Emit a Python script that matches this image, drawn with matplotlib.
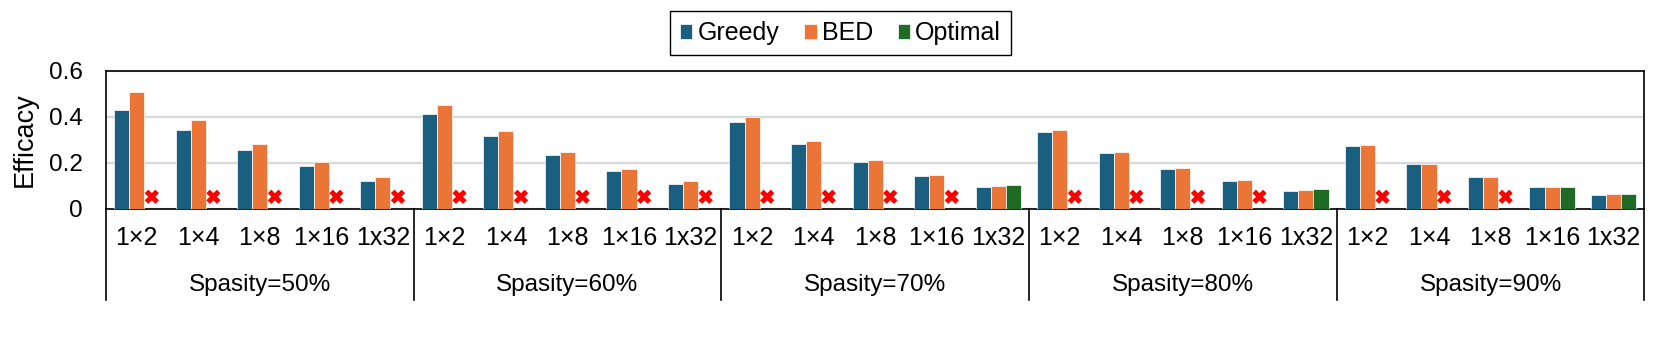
import numpy as np
import matplotlib
matplotlib.use('Agg')
import matplotlib.pyplot as plt
import matplotlib.transforms as mtransforms

plt.rcParams['font.family'] = ['Liberation Sans', 'DejaVu Sans']

# values
groups = ['Spasity=50%', 'Spasity=60%', 'Spasity=70%', 'Spasity=80%', 'Spasity=90%']
blocks = ['1×2', '1×4', '1×8', '1×16', '1x32']

greedy = [0.430, 0.344, 0.257, 0.186, 0.119,
          0.411, 0.318, 0.232, 0.164, 0.108,
          0.378, 0.283, 0.203, 0.142, 0.093,
          0.333, 0.244, 0.173, 0.121, 0.078,
          0.272, 0.195, 0.137, 0.093, 0.061]
bed = [0.506, 0.387, 0.283, 0.203, 0.139,
       0.453, 0.339, 0.246, 0.173, 0.119,
       0.400, 0.293, 0.211, 0.148, 0.100,
       0.344, 0.248, 0.176, 0.123, 0.081,
       0.276, 0.195, 0.137, 0.096, 0.064]
# None = optimal could not be computed (red cross)
optimal = [None, None, None, None, None,
           None, None, None, None, None,
           None, None, None, None, 0.103,
           None, None, None, None, 0.086,
           None, None, None, 0.096, 0.064]

c_greedy = '#1A5E80'
c_bed = '#EA7536'
c_opt = '#1F6B25'
fs = 18

fig = plt.figure(figsize=(16.61, 3.64), dpi=100)
ax = fig.add_axes([0.0638, 0.4266, 0.9262, 0.379])

x = np.arange(len(greedy))
w = 0.245
ax.bar(x - w, greedy, w, color=c_greedy, edgecolor='white', linewidth=0.5, label='Greedy', zorder=3)
ax.bar(x, bed, w, color=c_bed, edgecolor='white', linewidth=0.5, label='BED', zorder=3)

opt_x = [xi + w for xi, v in zip(x, optimal) if v is not None]
opt_v = [v for v in optimal if v is not None]
ax.bar(opt_x, opt_v, w, color=c_opt, edgecolor='white', linewidth=0.5, label='Optimal', zorder=3)

miss_x = [xi + w for xi, v in zip(x, optimal) if v is None]
ax.scatter(miss_x, [0.052] * len(miss_x), marker='X', s=105, color='red',
           edgecolors='none', zorder=4)

ax.set_xlim(-0.5, len(greedy) - 0.5)
ax.set_ylim(0, 0.6)
ax.set_yticks([0, 0.2, 0.4, 0.6])
ax.set_yticklabels(['0', '0.2', '0.4', '0.6'])
ax.yaxis.grid(True, color='#d9d9d9', linewidth=1.6, zorder=0)
ax.set_xticks([])
ax.tick_params(axis='y', length=0, pad=16.5, labelsize=17.5)
for s in ax.spines.values():
    s.set_linewidth(1.2)
ax.set_ylabel('Efficacy', fontsize=19.5)
ax.yaxis.set_label_coords(-0.0445, 0.5)

# category labels and group labels under the axis
trans = mtransforms.blended_transform_factory(ax.transData, ax.transAxes)
for i in range(len(greedy)):
    ax.text(i, -0.215, blocks[i % len(blocks)], transform=trans,
            ha='center', va='center', fontsize=fs)
for g, name in enumerate(groups):
    ax.text(g * 5 + 2, -0.555, name, transform=trans,
            ha='center', va='center', fontsize=17.5)
for b in range(len(groups) + 1):
    ax.plot([b * 5 - 0.5, b * 5 - 0.5], [0, -0.66], transform=trans,
            color='black', linewidth=1.2, clip_on=False)

fig.legend(loc='center', bbox_to_anchor=(0.506, 0.908), ncol=3, fontsize=fs,
           frameon=True, fancybox=False, edgecolor='black', framealpha=1,
           handlelength=0.5, handleheight=0.5, handletextpad=0.2,
           columnspacing=1.0, borderpad=0.4)

fig.savefig('out.png', dpi=100)
